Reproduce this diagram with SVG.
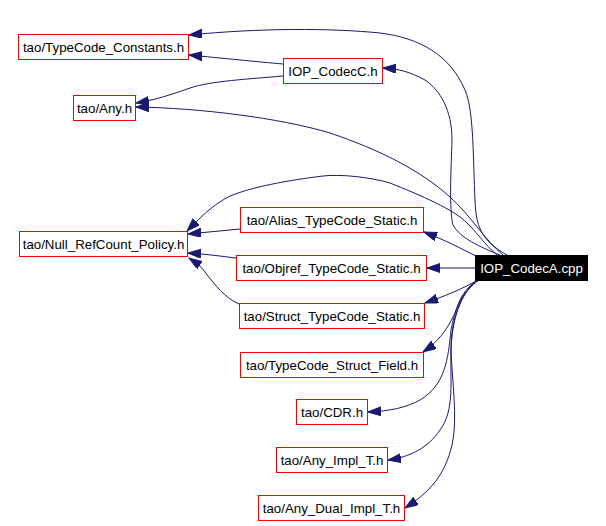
<svg xmlns="http://www.w3.org/2000/svg" width="606" height="526" viewBox="0 0 606 526">
<style>
.n rect{fill:#fff;stroke:#ff0000;stroke-width:1}
.n text{font-family:"Liberation Sans",Arial,Helvetica,sans-serif;font-size:13.3px;fill:#000;text-anchor:middle}
#root rect{fill:#000;stroke:#000}
#root text{fill:#fff}
.e path{fill:none;stroke:#191970;stroke-width:1;marker-end:url(#ah)}
</style>
<defs>
<marker id="ah" markerUnits="userSpaceOnUse" markerWidth="14" markerHeight="10" refX="13" refY="4.5" orient="auto">
<path d="M0,0 L13,4.5 L0,9 z" fill="#191970" stroke="#191970" stroke-width="1"/>
</marker>
</defs>
<rect width="606" height="526" fill="#fff"/>
<g id="edges" class="e">
<path d="M507,255 C480,240 476,225 475,200 C473,160 474,110 465,90 C450,55 420,38 380,33 C330,28 260,28 189,35"/>
<path d="M500,255 C480,247 460,238 453,225 C449,210 451,170 452,140 C452,110 440,90 425,80 C410,72 400,69 383,68"/>
<path d="M503,255 C485,240 470,215 450,197 C420,170 380,150 330,133 C280,118 200,108 136,107"/>
<path d="M497,255 C485,245 475,230 467,223 C455,210 420,195 390,183 C370,177 340,174 323,176 C290,180 250,187 228,197 C210,207 200,218 187,231"/>
<path d="M476,256 C460,248 445,240 424,232"/>
<path d="M475,268 L427,268"/>
<path d="M478,280 C460,290 445,296 425,303"/>
<path d="M478,281 C465,290 460,300 455,313 C447,330 438,342 423,352"/>
<path d="M476,281 C460,292 455,310 451,330 C448,360 445,385 420,400 C405,408 390,411 368,412"/>
<path d="M476,281 C460,295 452,320 451,350 C450,380 455,410 440,430 C428,448 410,457 388,460"/>
<path d="M476,281 C460,295 451,320 451,350 C452,380 458,420 452,445 C445,475 430,492 405,508"/>
<path d="M283,64 C260,62 220,58 189,55"/>
<path d="M283,76 C250,79 210,81 190,88 C170,95 155,100 136,103"/>
<path d="M240,229 L188,234"/>
<path d="M236,258 C220,256 205,254 188,253"/>
<path d="M239,304 C225,298 215,285 205,272 C200,265 195,262 189,258"/>
</g>
<g id="root" class="n"><rect x="475.5" y="255.5" width="112" height="25"/><text x="531.5" y="273">IOP_CodecA.cpp</text></g>
<g id="n_tcconst" class="n"><rect x="18.5" y="34.5" width="170" height="25"/><text x="103.5" y="52">tao/TypeCode_Constants.h</text></g>
<g id="n_codecc" class="n"><rect x="283.5" y="58.5" width="99" height="25"/><text x="333" y="76">IOP_CodecC.h</text></g>
<g id="n_any" class="n"><rect x="73.5" y="95.5" width="62" height="25"/><text x="104.5" y="113">tao/Any.h</text></g>
<g id="n_null" class="n"><rect x="19.5" y="231.5" width="168" height="25"/><text x="103.5" y="249">tao/Null_RefCount_Policy.h</text></g>
<g id="n_alias" class="n"><rect x="240.5" y="207.5" width="183" height="25"/><text x="332" y="225">tao/Alias_TypeCode_Static.h</text></g>
<g id="n_objref" class="n"><rect x="236.5" y="255.5" width="190" height="25"/><text x="331.5" y="273">tao/Objref_TypeCode_Static.h</text></g>
<g id="n_struct" class="n"><rect x="239.5" y="303.5" width="185" height="25"/><text x="332" y="321">tao/Struct_TypeCode_Static.h</text></g>
<g id="n_field" class="n"><rect x="240.5" y="352.5" width="183" height="25"/><text x="332" y="370">tao/TypeCode_Struct_Field.h</text></g>
<g id="n_cdr" class="n"><rect x="296.5" y="399.5" width="71" height="25"/><text x="332" y="417">tao/CDR.h</text></g>
<g id="n_anyimpl" class="n"><rect x="276.5" y="447.5" width="111" height="25"/><text x="332" y="465">tao/Any_Impl_T.h</text></g>
<g id="n_anydual" class="n"><rect x="258.5" y="495.5" width="146" height="25"/><text x="331.5" y="513">tao/Any_Dual_Impl_T.h</text></g>
</svg>
